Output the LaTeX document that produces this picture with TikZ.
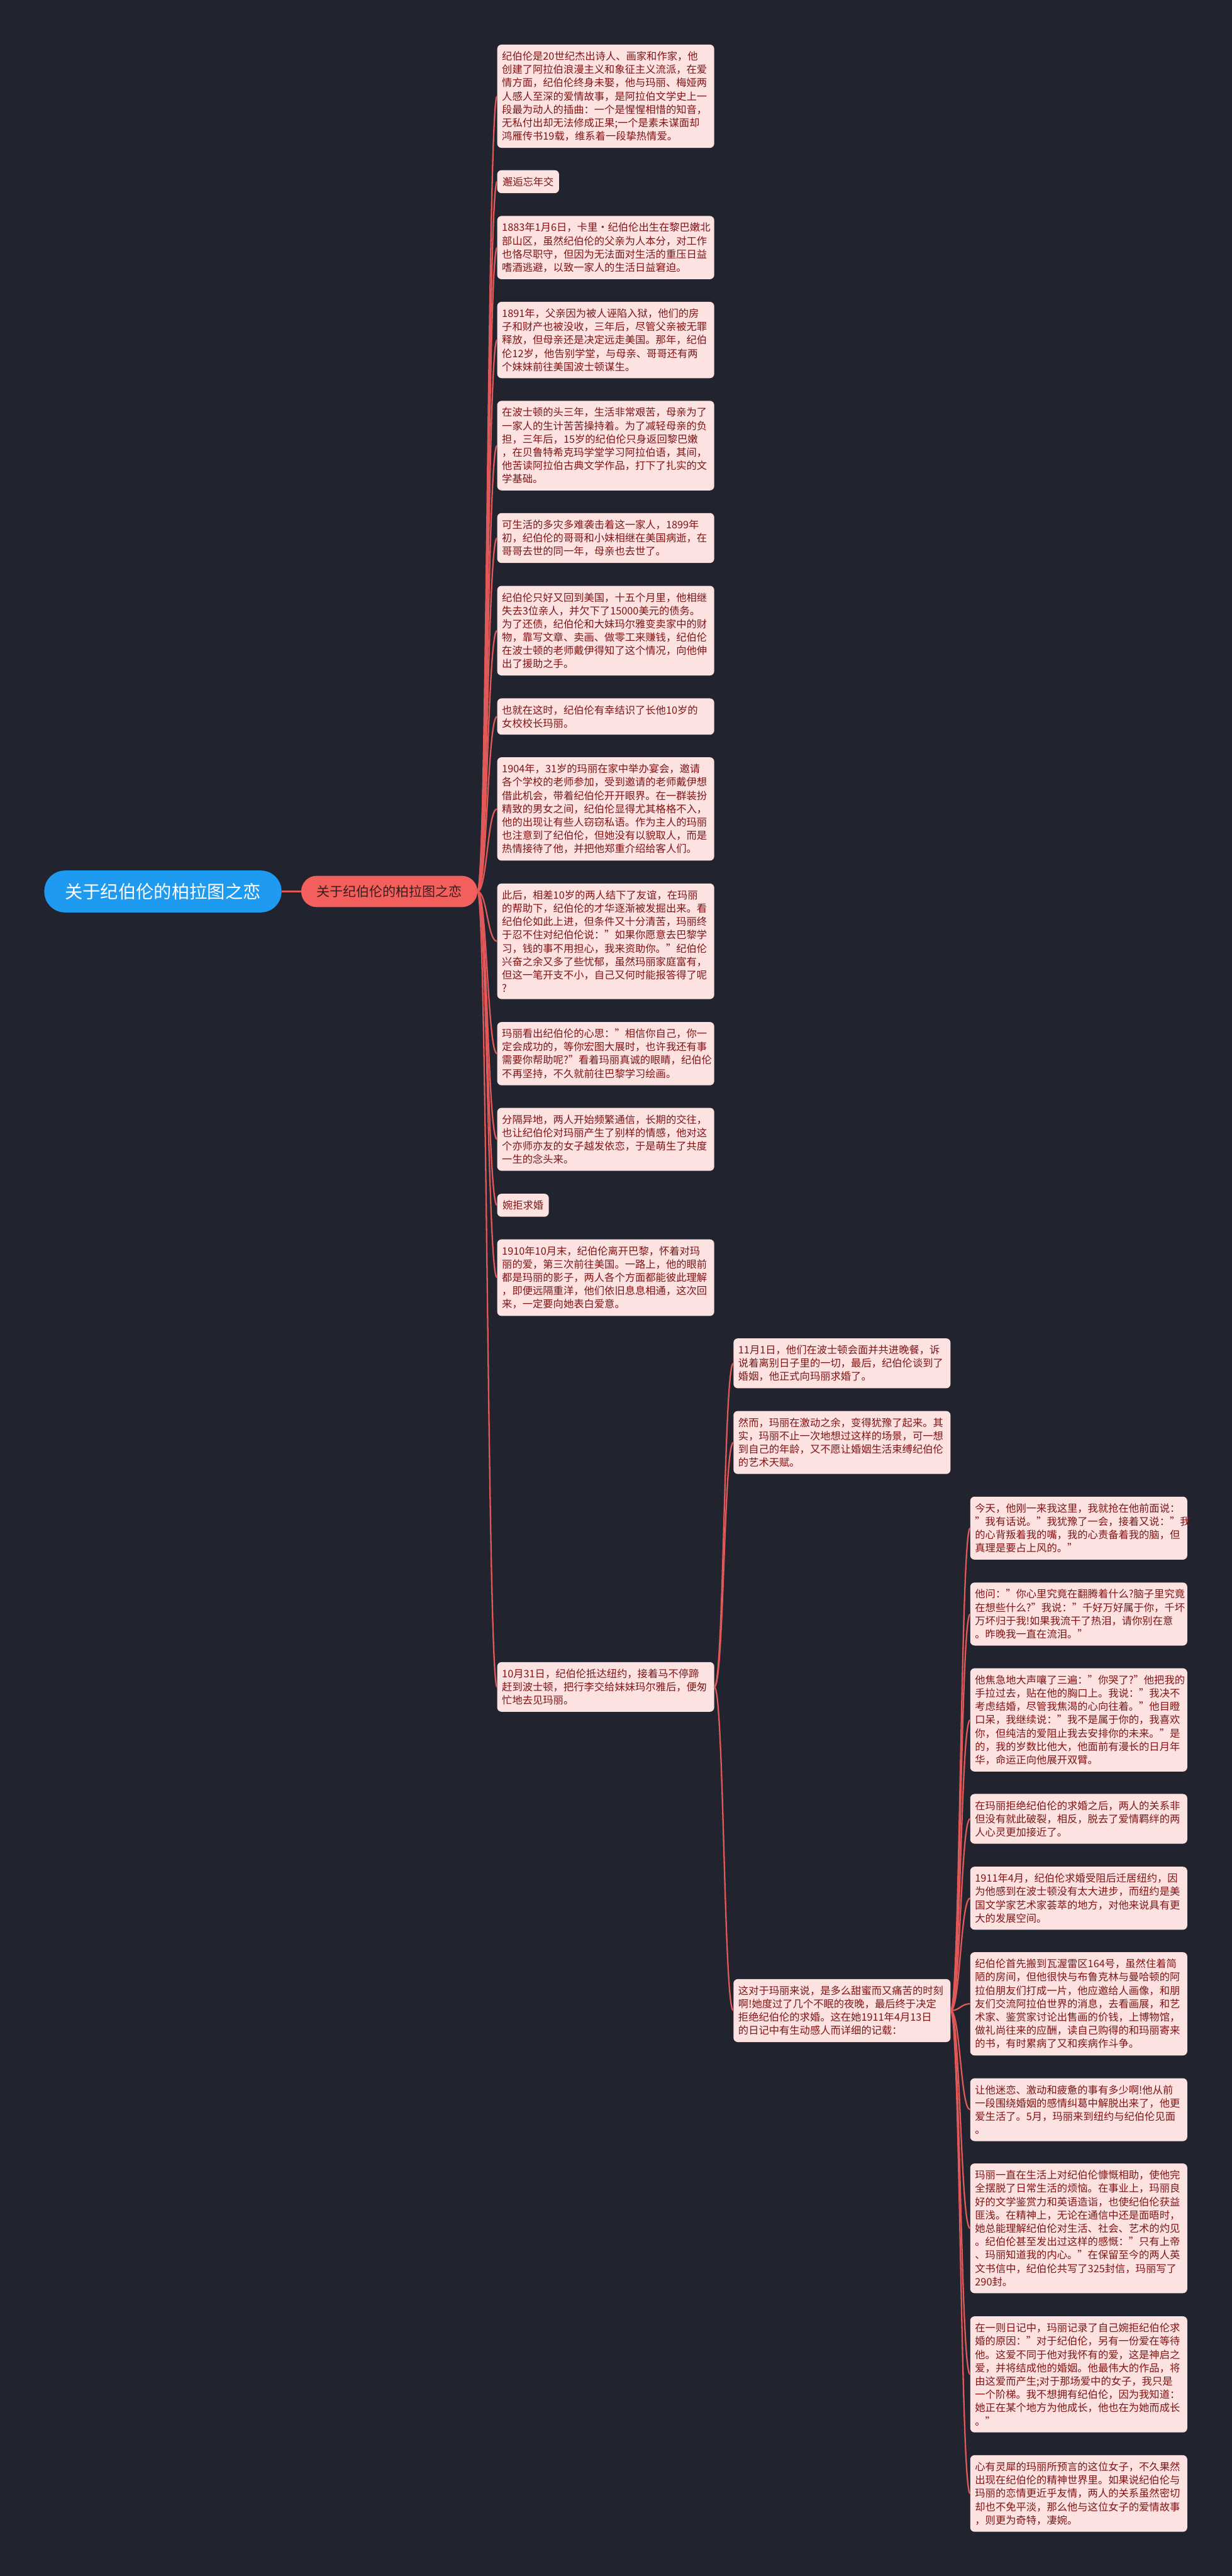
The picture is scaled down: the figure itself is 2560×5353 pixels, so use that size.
\documentclass[tikz,border=0pt]{standalone}
\usepackage{fontspec}
\setmainfont{Noto Sans CJK SC}
\definecolor{bgc}{HTML}{21242E}
\definecolor{rootblue}{HTML}{1E9AF0}
\definecolor{mainred}{HTML}{F25F5C}
\definecolor{maintext}{HTML}{3B1C1C}
\definecolor{leaffill}{HTML}{FDE2E2}
\definecolor{leaftext}{HTML}{801414}
\definecolor{linkc}{HTML}{E05858}
\begin{document}
\begin{tikzpicture}[x=1pt,y=-1pt,
  rootbox/.style={fill=rootblue,text=white,rounded corners=43pt,minimum width=493pt,minimum height=87pt,inner sep=0pt,font=\fontsize{37}{44}\selectfont},
  mainbox/.style={fill=mainred,text=maintext,rounded corners=32pt,minimum width=366pt,minimum height=65pt,inner sep=0pt,font=\fontsize{27.5}{33}\selectfont},
  leafbox/.style={fill=leaffill,text=leaftext,rounded corners=9pt,anchor=west,text width=431pt,align=left,inner xsep=10pt,inner ysep=14pt,font=\fontsize{21.3}{27.7}\selectfont},
  shortbox/.style={fill=leaffill,text=leaftext,rounded corners=9pt,anchor=west,inner xsep=11pt,inner ysep=14pt,font=\fontsize{21.3}{27.7}\selectfont},
  linkline/.style={draw=linkc,line width=3pt}]
\fill[bgc] (0,0) rectangle (2560,5353);
\useasboundingbox (0,0) rectangle (2560,5353);

\node[rootbox] (root) at (338.5,1852.5) {关于纪伯伦的柏拉图之恋};
\node[mainbox] (main) at (809,1852.5) {关于纪伯伦的柏拉图之恋};

\node[leafbox] (n1) at (1033,200) {纪伯伦是20世纪杰出诗人、画家和作家，他\\创建了阿拉伯浪漫主义和象征主义流派，在爱\\情方面，纪伯伦终身未娶，他与玛丽、梅娅两\\人感人至深的爱情故事，是阿拉伯文学史上一\\段最为动人的插曲：一个是惺惺相惜的知音，\\无私付出却无法修成正果;一个是素未谋面却\\鸿雁传书19载，维系着一段挚热情爱。};
\node[shortbox] (n2) at (1033,377.5) {邂逅忘年交};
\node[leafbox] (n3) at (1033,514.5) {1883年1月6日，卡里·纪伯伦出生在黎巴嫩北\\部山区，虽然纪伯伦的父亲为人本分，对工作\\也恪尽职守，但因为无法面对生活的重压日益\\嗜酒逃避，以致一家人的生活日益窘迫。};
\node[leafbox] (n4) at (1033,706.5) {1891年，父亲因为被人诬陷入狱，他们的房\\子和财产也被没收，三年后，尽管父亲被无罪\\释放，但母亲还是决定远走美国。那年，纪伯\\伦12岁，他告别学堂，与母亲、哥哥还有两\\个妹妹前往美国波士顿谋生。};
\node[leafbox] (n5) at (1033,926) {在波士顿的头三年，生活非常艰苦，母亲为了\\一家人的生计苦苦操持着。为了减轻母亲的负\\担，三年后，15岁的纪伯伦只身返回黎巴嫩\\，在贝鲁特希克玛学堂学习阿拉伯语，其间，\\他苦读阿拉伯古典文学作品，打下了扎实的文\\学基础。};
\node[leafbox] (n6) at (1033,1118) {可生活的多灾多难袭击着这一家人，1899年\\初，纪伯伦的哥哥和小妹相继在美国病逝，在\\哥哥去世的同一年，母亲也去世了。};
\node[leafbox] (n7) at (1033,1310.5) {纪伯伦只好又回到美国，十五个月里，他相继\\失去3位亲人，并欠下了15000美元的债务。\\为了还债，纪伯伦和大妹玛尔雅变卖家中的财\\物，靠写文章、卖画、做零工来赚钱，纪伯伦\\在波士顿的老师戴伊得知了这个情况，向他伸\\出了援助之手。};
\node[leafbox] (n8) at (1033,1489) {也就在这时，纪伯伦有幸结识了长他10岁的\\女校校长玛丽。};
\node[leafbox] (n9) at (1033,1681) {1904年，31岁的玛丽在家中举办宴会，邀请\\各个学校的老师参加，受到邀请的老师戴伊想\\借此机会，带着纪伯伦开开眼界。在一群装扮\\精致的男女之间，纪伯伦显得尤其格格不入，\\他的出现让有些人窃窃私语。作为主人的玛丽\\也注意到了纪伯伦，但她没有以貌取人，而是\\热情接待了他，并把他郑重介绍给客人们。};
\node[leafbox] (n10) at (1033,1956) {此后，相差10岁的两人结下了友谊，在玛丽\\的帮助下，纪伯伦的才华逐渐被发掘出来。看\\纪伯伦如此上进，但条件又十分清苦，玛丽终\\于忍不住对纪伯伦说："如果你愿意去巴黎学\\习，钱的事不用担心，我来资助你。"纪伯伦\\兴奋之余又多了些忧郁，虽然玛丽家庭富有，\\但这一笔开支不小，自己又何时能报答得了呢\\?};
\node[leafbox] (n11) at (1033,2189.5) {玛丽看出纪伯伦的心思："相信你自己，你一\\定会成功的，等你宏图大展时，也许我还有事\\需要你帮助呢?"看着玛丽真诚的眼睛，纪伯伦\\不再坚持，不久就前往巴黎学习绘画。};
\node[leafbox] (n12) at (1033,2367.5) {分隔异地，两人开始频繁通信，长期的交往，\\也让纪伯伦对玛丽产生了别样的情感，他对这\\个亦师亦友的女子越发依恋，于是萌生了共度\\一生的念头来。};
\node[shortbox] (n13) at (1033,2504.5) {婉拒求婚};
\node[leafbox] (n14) at (1033,2655) {1910年10月末，纪伯伦离开巴黎，怀着对玛\\丽的爱，第三次前往美国。一路上，他的眼前\\都是玛丽的影子，两人各个方面都能彼此理解\\，即便远隔重洋，他们依旧息息相通，这次回\\来，一定要向她表白爱意。};
\node[leafbox] (n15) at (1033,3505.5) {10月31日，纪伯伦抵达纽约，接着马不停蹄\\赶到波士顿，把行李交给妹妹玛尔雅后，便匆\\忙地去见玛丽。};

\node[leafbox] (a1) at (1524,2833) {11月1日，他们在波士顿会面并共进晚餐，诉\\说着离别日子里的一切，最后，纪伯伦谈到了\\婚姻，他正式向玛丽求婚了。};
\node[leafbox] (a2) at (1524,2997.5) {然而，玛丽在激动之余，变得犹豫了起来。其\\实，玛丽不止一次地想过这样的场景，可一想\\到自己的年龄，又不愿让婚姻生活束缚纪伯伦\\的艺术天赋。};
\node[leafbox] (a3) at (1524,4178) {这对于玛丽来说，是多么甜蜜而又痛苦的时刻\\啊!她度过了几个不眠的夜晚，最后终于决定\\拒绝纪伯伦的求婚。这在她1911年4月13日\\的日记中有生动感人而详细的记载：};

\node[leafbox] (c1) at (2016,3175.5) {今天，他刚一来我这里，我就抢在他前面说：\\"我有话说。"我犹豫了一会，接着又说："我\\的心背叛着我的嘴，我的心责备着我的脑，但\\真理是要占上风的。"};
\node[leafbox] (c2) at (2016,3354) {他问："你心里究竟在翻腾着什么?脑子里究竟\\在想些什么?"我说："千好万好属于你，千坏\\万坏归于我!如果我流干了热泪，请你别在意\\。昨晚我一直在流泪。"};
\node[leafbox] (c3) at (2016,3574) {他焦急地大声嚷了三遍："你哭了?"他把我的\\手拉过去，贴在他的胸口上。我说："我决不\\考虑结婚，尽管我焦渴的心向往着。"他目瞪\\口呆，我继续说："我不是属于你的，我喜欢\\你，但纯洁的爱阻止我去安排你的未来。"是\\的，我的岁数比他大，他面前有漫长的日月年\\华，命运正向他展开双臂。};
\node[leafbox] (c4) at (2016,3779.5) {在玛丽拒绝纪伯伦的求婚之后，两人的关系非\\但没有就此破裂，相反，脱去了爱情羁绊的两\\人心灵更加接近了。};
\node[leafbox] (c5) at (2016,3944.5) {1911年4月，纪伯伦求婚受阻后迁居纽约，因\\为他感到在波士顿没有太大进步，而纽约是美\\国文学家艺术家荟萃的地方，对他来说具有更\\大的发展空间。};
\node[leafbox] (c6) at (2016,4164) {纪伯伦首先搬到瓦渥雷区164号，虽然住着简\\陋的房间，但他很快与布鲁克林与曼哈顿的阿\\拉伯朋友们打成一片，他应邀给人画像，和朋\\友们交流阿拉伯世界的消息，去看画展，和艺\\术家、鉴赏家讨论出售画的价钱，上博物馆，\\做礼尚往来的应酬，读自己购得的和玛丽寄来\\的书，有时累病了又和疾病作斗争。};
\node[leafbox] (c7) at (2016,4384) {让他迷恋、激动和疲惫的事有多少啊!他从前\\一段围绕婚姻的感情纠葛中解脱出来了，他更\\爱生活了。5月，玛丽来到纽约与纪伯伦见面\\。};
\node[leafbox] (c8) at (2016,4630.5) {玛丽一直在生活上对纪伯伦慷慨相助，使他完\\全摆脱了日常生活的烦恼。在事业上，玛丽良\\好的文学鉴赏力和英语造诣，也使纪伯伦获益\\匪浅。在精神上，无论在通信中还是面晤时，\\她总能理解纪伯伦对生活、社会、艺术的灼见\\。纪伯伦甚至发出过这样的感慨："只有上帝\\、玛丽知道我的内心。"在保留至今的两人英\\文书信中，纪伯伦共写了325封信，玛丽写了\\290封。};
\node[leafbox] (c9) at (2016,4934) {在一则日记中，玛丽记录了自己婉拒纪伯伦求\\婚的原因："对于纪伯伦，另有一份爱在等待\\他。这爱不同于他对我怀有的爱，这是神启之\\爱，并将结成他的婚姻。他最伟大的作品，将\\由这爱而产生;对于那场爱中的女子，我只是\\一个阶梯。我不想拥有纪伯伦，因为我知道：\\她正在某个地方为他成长，他也在为她而成长\\。"};
\node[leafbox] (c10) at (2016,5181.5) {心有灵犀的玛丽所预言的这位女子，不久果然\\出现在纪伯伦的精神世界里。如果说纪伯伦与\\玛丽的恋情更近乎友情，两人的关系虽然密切\\却也不免平淡，那么他与这位女子的爱情故事\\，则更为奇特，凄婉。};

\draw[linkline] (root.east) -- (main.west);
\foreach \c in {n1,n2,n3,n4,n5,n6,n7,n8,n9,n10,n11,n12,n13,n14,n15}
  \draw[linkline] (main.east) .. controls +(20,0) and +(-20,0) .. (\c.west);
\foreach \c in {a1,a2,a3}
  \draw[linkline] (n15.east) .. controls +(20,0) and +(-20,0) .. (\c.west);
\foreach \c in {c1,c2,c3,c4,c5,c6,c7,c8,c9,c10}
  \draw[linkline] (a3.east) .. controls +(20,0) and +(-20,0) .. (\c.west);
\end{tikzpicture}
\end{document}
